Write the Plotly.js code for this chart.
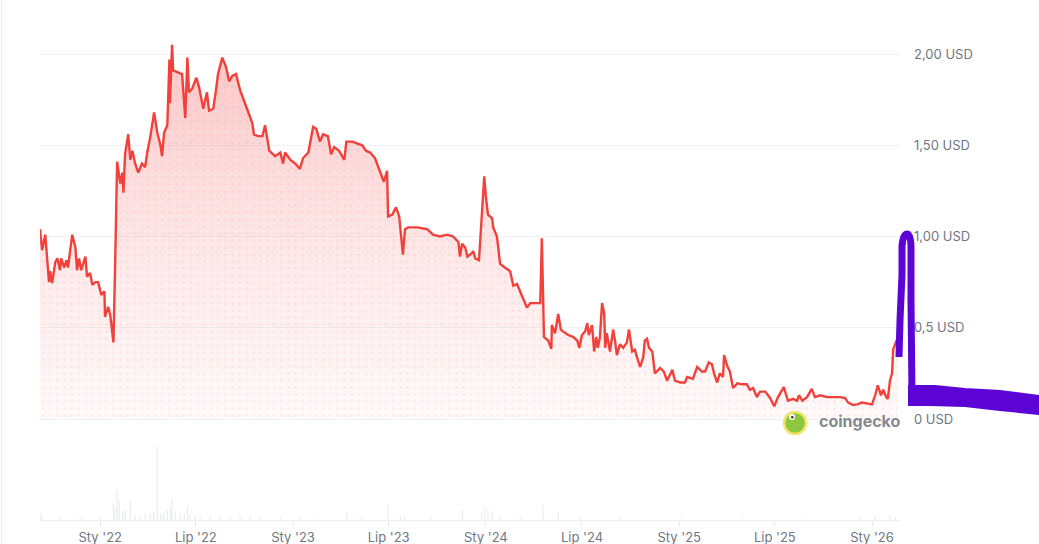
<!DOCTYPE html>
<html>
<head>
<meta charset="utf-8">
<script src="https://cdn.plot.ly/plotly-3.0.1.min.js"></script>
<style>
  html, body { margin: 0; padding: 0; background: #ffffff; }
  #chart { width: 1039px; height: 544px; }
</style>
</head>
<body>
<div id="chart"></div>
<script>
// ---- price series (USD) ----
const dates = [
'2021-09-09','2021-09-13','2021-09-19','2021-09-23','2021-09-26','2021-09-28','2021-10-02','2021-10-08','2021-10-12','2021-10-17',
'2021-10-19','2021-10-25','2021-10-29','2021-11-01','2021-11-05','2021-11-09','2021-11-15','2021-11-18','2021-11-22','2021-11-26',
'2021-12-04','2021-12-07','2021-12-13','2021-12-17','2021-12-23','2021-12-28','2022-01-03','2022-01-09','2022-01-10','2022-01-16',
'2022-01-20','2022-01-26','2022-01-29','2022-01-31','2022-02-02','2022-02-08','2022-02-12','2022-02-14','2022-02-17','2022-02-23',
'2022-02-27','2022-03-03','2022-03-08','2022-03-14','2022-03-21','2022-03-27','2022-03-31','2022-04-06','2022-04-13','2022-04-19',
'2022-04-25','2022-04-28','2022-05-02','2022-05-08','2022-05-12','2022-05-13','2022-05-17','2022-05-19','2022-05-27','2022-06-05',
'2022-06-11','2022-06-15','2022-06-18','2022-06-24','2022-07-02','2022-07-07','2022-07-15','2022-07-22','2022-07-26','2022-08-03',
'2022-08-09','2022-08-12','2022-08-20','2022-08-27','2022-09-02','2022-09-08','2022-09-15','2022-09-23','2022-10-02','2022-10-10',
'2022-10-16','2022-10-19','2022-10-27','2022-11-04','2022-11-09','2022-11-17','2022-11-28','2022-12-08','2022-12-13','2022-12-17',
'2022-12-27','2023-01-05','2023-01-14','2023-01-20','2023-01-30','2023-02-08','2023-02-14','2023-02-21','2023-02-27','2023-03-08',
'2023-03-14','2023-03-20','2023-03-29','2023-04-08','2023-04-12','2023-04-23','2023-05-02','2023-05-12','2023-05-19','2023-05-27',
'2023-06-05','2023-06-15','2023-06-22','2023-06-28','2023-06-30','2023-07-08','2023-07-15','2023-07-21','2023-07-28','2023-08-01',
'2023-08-07','2023-08-24','2023-09-12','2023-09-23','2023-10-06','2023-10-20','2023-10-31','2023-11-10','2023-11-13','2023-11-17',
'2023-11-23','2023-11-27','2023-12-06','2023-12-08','2023-12-12','2023-12-19','2023-12-23','2023-12-29','2024-01-01','2024-01-05',
'2024-01-13','2024-01-15','2024-01-22','2024-01-28','2024-02-06','2024-02-16','2024-02-22','2024-02-29','2024-03-10','2024-03-19',
'2024-03-25','2024-04-13','2024-04-16','2024-04-20','2024-04-28','2024-05-04','2024-05-05','2024-05-11','2024-05-17','2024-05-22',
'2024-05-26','2024-06-05','2024-06-14','2024-06-22','2024-06-26','2024-07-01','2024-07-07','2024-07-11','2024-07-14','2024-07-20',
'2024-07-24','2024-07-28','2024-07-31','2024-08-04','2024-08-08','2024-08-12','2024-08-14','2024-08-17','2024-08-23','2024-08-29',
'2024-09-02','2024-09-05','2024-09-11','2024-09-17','2024-09-24','2024-09-28','2024-10-04','2024-10-09','2024-10-13','2024-10-19',
'2024-10-25','2024-10-28','2024-11-01','2024-11-05','2024-11-11','2024-11-16','2024-11-26','2024-12-03','2024-12-09','2024-12-19',
'2024-12-24','2025-01-03','2025-01-12','2025-01-16','2025-01-27','2025-02-04','2025-02-13','2025-02-19','2025-02-26','2025-03-04',
'2025-03-08','2025-03-14','2025-03-19','2025-03-25','2025-03-27','2025-04-02','2025-04-07','2025-04-13','2025-04-21','2025-04-30',
'2025-05-09','2025-05-15','2025-05-21','2025-05-28','2025-06-03','2025-06-13','2025-06-22','2025-06-30','2025-07-07','2025-07-18',
'2025-07-26','2025-08-05','2025-08-12','2025-08-16','2025-08-22','2025-08-31','2025-09-09','2025-09-15','2025-09-25','2025-10-08',
'2025-10-19','2025-11-02','2025-11-11','2025-11-17','2025-11-26','2025-12-04','2025-12-13','2025-12-23','2026-01-01','2026-01-07',
'2026-01-12','2026-01-18','2026-01-22','2026-01-28','2026-01-31','2026-02-04','2026-02-08','2026-02-10','2026-02-14','2026-02-17',
'2026-02-19'
];
const prices = [
1.04,0.925,1.01,0.855,0.75,0.81,0.745,0.86,0.88,0.815,
0.88,0.83,0.87,0.83,0.925,1.01,0.94,0.815,0.88,0.815,
0.89,0.78,0.80,0.735,0.75,0.75,0.68,0.70,0.56,0.615,
0.57,0.42,0.815,1.22,1.41,1.29,1.35,1.24,1.45,1.56,
1.42,1.47,1.40,1.35,1.40,1.38,1.46,1.55,1.68,1.57,
1.50,1.44,1.57,1.61,1.97,1.73,2.05,1.91,1.90,1.89,
1.65,1.98,1.79,1.81,1.87,1.82,1.70,1.79,1.69,1.70,
1.82,1.89,1.98,1.93,1.85,1.88,1.89,1.80,1.73,1.67,
1.62,1.56,1.55,1.55,1.61,1.47,1.44,1.46,1.40,1.46,
1.42,1.40,1.37,1.43,1.46,1.60,1.59,1.52,1.56,1.55,
1.45,1.49,1.47,1.42,1.52,1.52,1.51,1.50,1.47,1.46,
1.43,1.35,1.30,1.36,1.11,1.12,1.16,1.11,0.90,1.04,
1.05,1.05,1.04,1.01,1.00,1.01,1.00,0.97,0.89,0.96,
0.94,0.89,0.91,0.92,0.88,0.87,1.04,1.33,1.22,1.12,
1.10,1.05,1.00,0.85,0.83,0.81,0.73,0.74,0.67,0.61,
0.635,0.635,0.99,0.45,0.43,0.385,0.515,0.47,0.575,0.49,
0.48,0.46,0.45,0.43,0.39,0.46,0.48,0.525,0.46,0.515,
0.37,0.45,0.39,0.45,0.635,0.58,0.39,0.47,0.37,0.49,
0.42,0.35,0.41,0.39,0.42,0.49,0.37,0.38,0.34,0.285,
0.34,0.43,0.44,0.39,0.37,0.25,0.28,0.26,0.21,0.27,
0.21,0.20,0.20,0.23,0.22,0.285,0.26,0.26,0.31,0.30,
0.25,0.20,0.25,0.23,0.35,0.29,0.26,0.17,0.195,0.19,
0.19,0.16,0.17,0.12,0.15,0.15,0.115,0.07,0.12,0.175,
0.10,0.11,0.10,0.13,0.10,0.12,0.165,0.12,0.13,0.12,
0.12,0.12,0.115,0.09,0.077,0.08,0.09,0.085,0.08,0.13,
0.185,0.13,0.16,0.12,0.11,0.21,0.25,0.38,0.415,0.435,
0.41
];

// ---- volume (relative units) ----
const volDates = [
'2021-09-09','2021-09-13','2021-10-17','2021-11-24','2022-01-01','2022-01-26','2022-01-29','2022-02-02','2022-02-06','2022-02-12',
'2022-02-17','2022-02-27','2022-03-08','2022-03-17','2022-03-27','2022-04-06','2022-04-12','2022-04-19','2022-04-25','2022-05-01',
'2022-05-08','2022-05-14','2022-05-17','2022-05-23','2022-06-01','2022-06-09','2022-06-15','2022-06-20','2022-06-30','2022-07-09',
'2022-07-28','2022-08-16','2022-09-04','2022-09-23','2022-10-12','2022-10-31','2022-12-08','2023-01-14','2023-02-21','2023-04-13',
'2023-05-08','2023-06-30','2023-07-23','2023-07-31','2023-09-19','2023-11-18','2023-12-24','2023-12-30','2024-01-05','2024-01-13',
'2024-01-28','2024-03-06','2024-04-18','2024-05-17','2024-06-27','2024-09-11','2025-01-06','2025-05-01','2025-08-18','2025-12-09',
'2026-01-07','2026-02-04','2026-02-14'
];
const volValues = [
8,6,2,2,2,17,12,30,20,8,
10,20,5,4,6,7,8,75,6,8,
10,12,22,9,6,7,13,6,4,3,
4,5,3,3,4,2,2,2,1,8,
2,15,5,5,2,10,8,12,10,8,
4,3,15,8,2,2,1,1,1,2,
4,5,3
];

// ---- axis ticks ----
const xTickVals = ['2022-01-01','2022-07-01','2023-01-01','2023-07-01','2024-01-01','2024-07-01','2025-01-01','2025-07-01','2026-01-01'];
const xTickText = ["Sty '22","Lip '22","Sty '23","Lip '23","Sty '24","Lip '24","Sty '25","Lip '25","Sty '26"];
const yTickVals = [0, 0.5, 1, 1.5, 2];
const yTickText = ['0 USD','0,5 USD','1,00 USD','1,50 USD','2,00 USD'];

// pixel helpers for decorative shapes (plot area: x 40..900, y 20..520)
const L = 40, R = 900, T = 20, B = 520;
const px = x => (x - L) / (R - L);
const py = y => (B - y) / (B - T);
const pathOf = (cmds) => cmds.map(c => c[0] + ' ' + px(c[1]) + ',' + py(c[2]) + (c.length > 3 ? ' ' + px(c[3]) + ',' + py(c[4]) : '')).join(' ');

const priceFill = {
  x: dates, y: prices, type: 'scatter', mode: 'none',
  fill: 'tozeroy',
  fillgradient: {
    type: 'vertical', start: 0, stop: 2.05,
    colorscale: [[0, 'rgba(255,120,120,0.04)'], [0.5, 'rgba(248,105,105,0.17)'], [1, 'rgba(242,85,85,0.34)']]
  },
  xaxis: 'x', yaxis: 'y', hoverinfo: 'skip'
};
const priceDots = {
  x: dates, y: prices, type: 'scatter', mode: 'none',
  fill: 'tozeroy', fillcolor: 'rgba(0,0,0,0)',
  fillpattern: { shape: '.', size: 7, solidity: 0.15, fgcolor: 'rgba(235,120,120,0.10)', bgcolor: 'rgba(0,0,0,0)' },
  xaxis: 'x', yaxis: 'y', hoverinfo: 'skip'
};
const priceLine = {
  x: dates, y: prices, type: 'scatter', mode: 'lines',
  line: { color: '#f2403a', width: 2.4 },
  xaxis: 'x', yaxis: 'y', hoverinfo: 'skip'
};

const volTrace = {
  x: volDates, y: volValues, type: 'bar',
  width: 2 * 86400000,
  marker: { color: 'rgba(170,175,185,0.28)', line: { width: 0 } },
  xaxis: 'x', yaxis: 'y2', hoverinfo: 'skip'
};

const purple = '#5c04d6';
const shapes = [
  { type: 'line', xref: 'paper', yref: 'paper', x0: px(1.5), x1: px(1.5), y0: py(0), y1: py(544), line: { color: '#ececec', width: 1 } },
  { type: 'path', xref: 'paper', yref: 'paper', layer: 'above',
    path: pathOf([['M', 899, 357], ['L', 900, 320], ['L', 902, 275], ['L', 902, 246], ['Q', 903, 234, 907, 234], ['Q', 911, 234, 911, 248], ['L', 911, 300], ['L', 912, 396]]),
    line: { color: purple, width: 7 } },
  { type: 'path', xref: 'paper', yref: 'paper', layer: 'above',
    path: pathOf([['M', 909, 386], ['L', 935, 386], ['L', 965, 389], ['L', 1000, 391], ['L', 1039, 396], ['L', 1039, 414], ['L', 1000, 410], ['L', 965, 406], ['L', 930, 405], ['L', 909, 405]]) + ' Z',
    fillcolor: purple, line: { color: purple, width: 2 } },
  { type: 'circle', xref: 'paper', yref: 'paper', x0: px(784), x1: px(806), y0: py(434), y1: py(412),
    fillcolor: '#8dc63f', line: { color: '#f1e46a', width: 2.5 } },
  { type: 'circle', xref: 'paper', yref: 'paper', x0: px(789), x1: px(795), y0: py(420), y1: py(414),
    fillcolor: '#ffffff', line: { width: 0 } },
  { type: 'circle', xref: 'paper', yref: 'paper', x0: px(791), x1: px(793.5), y0: py(418.5), y1: py(416),
    fillcolor: '#333333', line: { width: 0 } }
];

const layout = {
  width: 1039, height: 544,
  margin: { l: L, r: 1039 - R, t: T, b: 544 - B, pad: 0 },
  paper_bgcolor: '#ffffff', plot_bgcolor: 'rgba(0,0,0,0)',
  showlegend: false,
  font: { family: 'Inter, Roboto, "Liberation Sans", sans-serif', size: 13, color: '#6f7782' },
  xaxis: {
    type: 'date', anchor: 'y2', range: ['2021-09-09', '2026-02-23'],
    tickvals: xTickVals, ticktext: xTickText,
    showgrid: false, zeroline: false,
    showline: true, linecolor: '#eceef1', linewidth: 1,
    ticks: 'outside', ticklen: 5, tickcolor: '#e6e8eb', tickwidth: 1,
    tickfont: { size: 13, color: '#6f7782' }, fixedrange: true
  },
  yaxis: {
    domain: [0.1947, 1], anchor: 'x', side: 'right',
    range: [-0.02, 2.1863],
    tickvals: yTickVals, ticktext: yTickText,
    showgrid: true, gridcolor: '#eff1f4', gridwidth: 1,
    zeroline: false, showline: false, ticks: '',
    ticklabelstandoff: 13,
    tickfont: { size: 13, color: '#6f7782' }, fixedrange: true
  },
  yaxis2: {
    domain: [0, 0.16], anchor: 'x', range: [0, 80],
    showgrid: false, zeroline: false, showline: false, showticklabels: false, ticks: '', fixedrange: true
  },
  shapes: shapes,
  annotations: [
    { xref: 'paper', yref: 'paper', x: px(817), y: py(421), xanchor: 'left', yanchor: 'middle',
      text: '<b>coingecko</b>', showarrow: false,
      font: { family: 'Inter, Roboto, sans-serif', size: 16, color: '#86898f' } }
  ]
};

Plotly.newPlot('chart', [volTrace, priceFill, priceDots, priceLine], layout, { displayModeBar: false, staticPlot: true });
</script>
</body>
</html>
